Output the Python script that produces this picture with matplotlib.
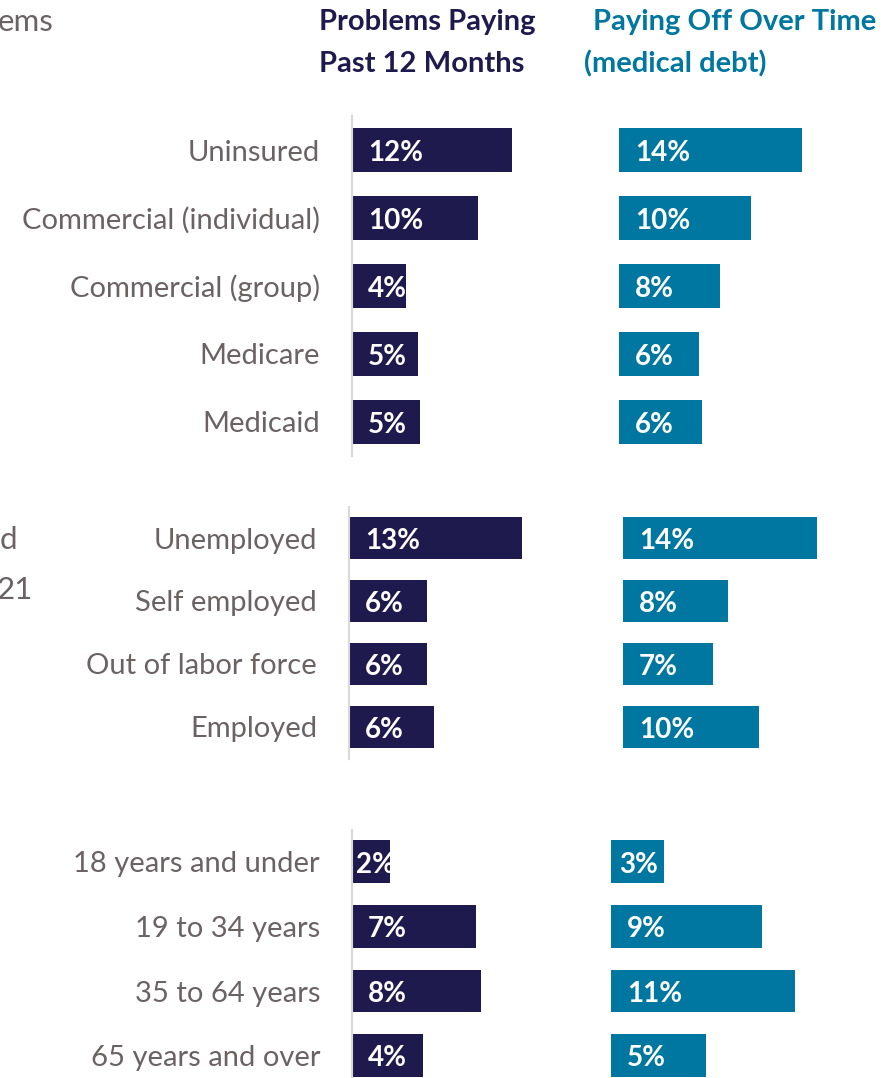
import matplotlib.pyplot as plt

# figure size in pixels (dpi 100)
W, H = 883, 1078

NAVY = '#1f1a4e'
TEAL = '#0077a0'
GRAY = '#6b6264'
AXIS_GRAY = '#d9d9d9'
FONT = 'Lato'

# --- data ---------------------------------------------------------------
insurance = ['Uninsured', 'Commercial (individual)', 'Commercial (group)',
             'Medicare', 'Medicaid']
ins_problems = [12.2, 9.6, 4.1, 5.0, 5.2]
ins_problems_lbl = ['12%', '10%', '4%', '5%', '5%']
ins_payoff = [14.0, 10.1, 7.7, 6.1, 6.3]
ins_payoff_lbl = ['14%', '10%', '8%', '6%', '6%']

employment = ['Unemployed', 'Self employed', 'Out of labor force', 'Employed']
emp_problems = [12.8, 5.8, 5.8, 6.3]
emp_problems_lbl = ['13%', '6%', '6%', '6%']
emp_payoff = [14.4, 7.8, 6.7, 10.1]
emp_payoff_lbl = ['14%', '8%', '7%', '10%']

age = ['18 years and under', '19 to 34 years', '35 to 64 years',
       '65 years and over']
age_problems = [2.2, 7.2, 7.5, 4.1]
age_problems_lbl = ['2%', '7%', '8%', '4%']
age_payoff = [3.1, 8.8, 10.7, 5.5]
age_payoff_lbl = ['3%', '9%', '11%', '5%']

fig = plt.figure(figsize=(W / 100, H / 100), dpi=100)


def add_column(left, right, top, bottom, scale, cats, vals, lbls, color,
               show_cats, small_off):
    """one column of bars, placed with pixel coords"""
    ax = fig.add_axes([left / W, 1 - bottom / H, (right - left) / W,
                       (bottom - top) / H])
    n = len(cats)
    y = list(range(n))
    ax.barh(y, vals, height=0.66, color=color, left=0)
    ax.set_xlim(0, (right - left) / scale)
    ax.set_ylim(n - 0.5, -0.5)
    ax.set_xticks([])
    for s in ['top', 'right', 'bottom']:
        ax.spines[s].set_visible(False)
    if show_cats:
        ax.spines['left'].set_color(AXIS_GRAY)
        ax.spines['left'].set_linewidth(1.5)
        ax.set_yticks(y)
        ax.set_yticklabels(cats, fontsize=21, color=GRAY, family=FONT)
        ax.tick_params(axis='y', length=0, pad=23)
    else:
        ax.spines['left'].set_visible(False)
        ax.set_yticks([])
    for i, (v, lab) in enumerate(zip(vals, lbls)):
        off = small_off if v < 3.5 else 11.5
        ax.annotate(lab, xy=(0, i), xytext=(off, -2), textcoords='offset points',
                    ha='left', va='center', color='white', fontsize=20,
                    fontweight='bold', family=FONT)
    ax.patch.set_alpha(0)
    return ax


# insurance panel
add_column(352, 590, 116, 456, 13.1, insurance, ins_problems, ins_problems_lbl,
           NAVY, True, 3)
add_column(619, 883, 116, 456, 13.1, insurance, ins_payoff, ins_payoff_lbl,
           TEAL, False, 6)

# employment panel
add_column(349, 590, 506.5, 758.5, 13.5, employment, emp_problems,
           emp_problems_lbl, NAVY, True, 3)
add_column(623, 883, 506.5, 758.5, 13.5, employment, emp_payoff,
           emp_payoff_lbl, TEAL, False, 6)

# age panel
add_column(352, 590, 829.5, 1088, 17.2, age, age_problems, age_problems_lbl,
           NAVY, True, 3)
add_column(611, 883, 829.5, 1088, 17.2, age, age_payoff, age_payoff_lbl,
           TEAL, False, 6)


def ftext(x, y, s, **kw):
    fig.text(x / W, 1 - y / H, s, family=FONT, va='center', **kw)


# column headers
ftext(319, 22, 'Problems Paying', fontsize=21, fontweight='bold', color=NAVY)
ftext(319, 64, 'Past 12 Months', fontsize=21, fontweight='bold', color=NAVY)
ftext(593, 22, 'Paying Off Over Time', fontsize=21, fontweight='bold',
      color=TEAL)
ftext(584, 64, '(medical debt)', fontsize=21, fontweight='bold', color=TEAL)

# text clipped at the left edge of the slide
ftext(-2, 22, 'ems', fontsize=22.5, color=GRAY)
ftext(0, 540, 'd', fontsize=22.5, color=GRAY)
ftext(-3, 590, '21', fontsize=22.5, color=GRAY)

fig.savefig('out.png', dpi=100, facecolor='white')
